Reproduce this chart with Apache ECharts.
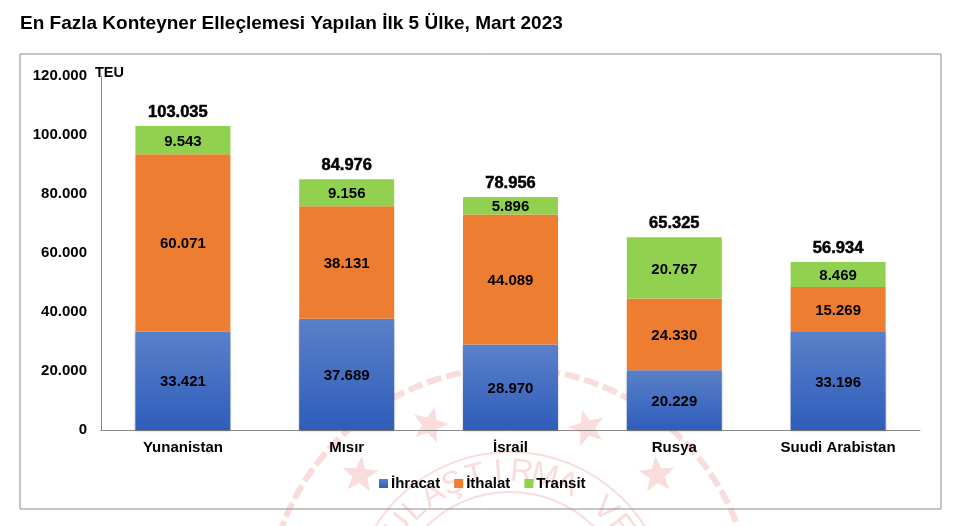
<!DOCTYPE html>
<html><head><meta charset="utf-8">
<style>html,body{margin:0;padding:0;background:#fff}#c{width:960px;height:526px}</style>
<script src="https://cdn.jsdelivr.net/npm/echarts@6/dist/echarts.min.js"></script>
</head><body><div id="c"></div>
<script>
const categories = ['Yunanistan','Mısır','İsrail','Rusya','Suudi Arabistan'];
const ihracat = [33421,37689,28970,20229,33196];
const ithalat = [60071,38131,44089,24330,15269];
const transit = [9543,9156,5896,20767,8469];
const totals = [103035,84976,78956,65325,56934];
const font = '"Liberation Sans", Arial, sans-serif';
const fmt = v => String(v).replace(/\B(?=(\d{3})+(?!\d))/g,'.');
const chart = echarts.init(document.getElementById('c'),null,{renderer:'canvas'});
const lab = {show:true,position:'inside',offset:[0,1.5],color:'#000',fontFamily:font,fontWeight:'bold',fontSize:15,formatter:p=>fmt(p.value)};
const pink = '#f9dcdc';
const cx = 510, cy = 611;
function starPts(r){const p=[];for(let i=0;i<10;i++){const a=-Math.PI/2+i*Math.PI/5,q=i%2?r*0.42:r;p.push([q*Math.cos(a),q*Math.sin(a)]);}return p;}
const starSpots = [[430,425,-15],[587,428,15],[360,475,-5],[657,475,5]];
const sealText = 'ETİ ULAŞTIRMA VE';
const seal = [...sealText].map((ch,i)=>{
  const ang=(i-9.5)*9.6*Math.PI/180;
  return {type:'text',silent:true,z:-20,x:cx+139*Math.sin(ang),y:cy-139*Math.cos(ang),rotation:-ang,
    style:{text:ch,fontFamily:font,fontSize:32,fill:pink,align:'center',verticalAlign:'middle'}};
});
chart.setOption({
  animation:false,
  backgroundColor:'#fff',
  title:{text:'En Fazla Konteyner Elleçlemesi Yapılan İlk 5 Ülke, Mart 2023',left:15,top:9,textStyle:{fontFamily:font,fontWeight:'bold',fontSize:19,color:'#000'}},
  grid:{left:101,right:40,top:76,height:354,containLabel:false},
  legend:{data:['İhracat','İthalat','Transit'],left:374,top:471,itemWidth:9,itemHeight:9,itemGap:14,
    icon:'rect',textStyle:{fontFamily:font,fontWeight:'bold',fontSize:15,color:'#000',padding:[0,0,0,-2]}},
  xAxis:{type:'category',data:categories,axisTick:{show:false},
    axisLine:{lineStyle:{color:'#8a8a8a',width:1}},
    axisLabel:{fontFamily:font,fontWeight:'bold',fontSize:15,color:'#000',margin:10}},
  yAxis:{type:'value',min:0,max:120000,interval:20000,splitLine:{show:false},
    axisLine:{show:true,lineStyle:{color:'#8a8a8a',width:1}},axisTick:{show:false},
    axisLabel:{fontFamily:font,fontWeight:'bold',fontSize:15,color:'#000',margin:14,padding:[2,0,0,0],formatter:v=>fmt(v)}},
  graphic:[
    {type:'rect',z:-10,silent:true,shape:{x:20,y:54,width:921,height:455},style:{fill:'none',stroke:'#8c8c8c',lineWidth:1}},
    {type:'text',z:10,silent:true,x:95,y:65,style:{text:'TEU',fontFamily:font,fontWeight:'bold',fontSize:14.5,fill:'#000'}},
    {type:'circle',silent:true,z:-20,shape:{cx:cx,cy:cy,r:243},style:{fill:'none',stroke:pink,lineWidth:6,lineDash:[15,5]}},
    {type:'circle',silent:true,z:-20,shape:{cx:cx,cy:cy,r:159},style:{fill:'none',stroke:pink,lineWidth:2}},
    {type:'circle',silent:true,z:-20,shape:{cx:cx,cy:cy,r:119},style:{fill:'none',stroke:pink,lineWidth:2}},
    ...seal,
    ...starSpots.map(s=>({type:'polygon',silent:true,z:-20,x:s[0],y:s[1],rotation:s[2]*Math.PI/180,shape:{points:starPts(19)},style:{fill:pink}}))
  ],
  series:[
    {name:'İhracat',type:'bar',stack:'t',barWidth:95,data:ihracat,label:lab,
     itemStyle:{color:new echarts.graphic.LinearGradient(0,0,0,1,[{offset:0,color:'#5a80c8'},{offset:1,color:'#2e5dbb'}]),shadowColor:'rgba(0,0,0,.25)',shadowBlur:2,shadowOffsetY:1}},
    {name:'İthalat',type:'bar',stack:'t',data:ithalat,label:lab,itemStyle:{color:'#ed7d31'}},
    {name:'Transit',type:'bar',stack:'t',data:transit,label:lab,itemStyle:{color:'#92d050'}},
    {name:'Toplam',type:'line',data:totals.map((v,i)=>i===0?{value:v,label:{offset:[-5,0]}}:v),symbol:'circle',symbolSize:1,itemStyle:{color:'transparent'},lineStyle:{opacity:0},
     label:{show:true,position:'top',distance:5,color:'#000',textBorderColor:'#000',textBorderWidth:0.5,fontFamily:font,fontWeight:'bold',fontSize:16.5,formatter:p=>fmt(p.value)}}
  ]
});
</script></body></html>
